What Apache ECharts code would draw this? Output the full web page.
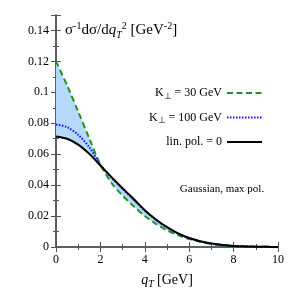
<!DOCTYPE html>
<html><head><meta charset="utf-8">
<script src="https://cdn.jsdelivr.net/npm/echarts@6/dist/echarts.min.js"></script>
<style>html,body{margin:0;padding:0;background:#fff}#c{width:300px;height:300px}</style>
</head><body><div id="c"></div>
<script>
// ---- data ----
const qT = [0,0.5,1,1.5,2,2.5,3,3.5,4,4.5,5,5.5,6,6.5,7,7.5,8,8.5,9,9.5,10];
const linPol0 = [0.0715,0.0700,0.0662,0.0602,0.0527,0.0452,0.0380,0.0310,0.0238,0.0178,0.0128,0.0088,0.0058,0.0037,0.0022,0.0013,0.0007,0.0004,0.0002,0.0001,0.0000];
const k100 = [0.0792,0.0775,0.0725,0.0645,0.0532,0.0449,0.0376,0.0306,0.0235,0.0176,0.0127,0.0087,0.0057,0.0036,0.0022,0.0013,0.0007,0.0004,0.0002,0.0001,0.0000];
const k30 = [0.1200,0.1045,0.0875,0.0702,0.0532,0.0414,0.0332,0.0263,0.0200,0.0150,0.0108,0.0076,0.0051,0.0033,0.0020,0.0012,0.0007,0.0004,0.0002,0.0001,0.0000];
const seriesNames = ['K30','K100','lin0'];
const legendLabels = ['{n|K}{s|⊥}{n| = 30 GeV}','{n|K}{s|⊥}{n| = 100 GeV}','{n|lin. pol. = 0}'];
const xRange = [0,10], xStep = 2;
const yRange = [0,0.15], yStep = 0.02;
const noteText = 'Gaussian, max pol.';

const pairs = a => qT.map((x,i)=>[x,a[i]]);
const bandBase = qT.map((x,i)=>Math.min(k30[i], linPol0[i]));
const bandSize = qT.map((x,i)=>Math.abs(k30[i] - linPol0[i]));

const serif = 'Liberation Serif';
const frame = '#555';
const chart = echarts.init(document.getElementById('c'), null, {renderer:'canvas'});
const axisCommon = {
  axisLine:{show:true,lineStyle:{color:frame,width:1.5}},
  axisTick:{show:true,inside:true,length:5,lineStyle:{color:frame,width:1}},
  minorTick:{show:true,splitNumber:2,length:3,lineStyle:{color:frame,width:1}},
  splitLine:{show:false}
};
const SM = 0.3;
chart.setOption({
  animation:false,
  backgroundColor:'#fff',
  grid:{left:56,right:22,top:15,bottom:53},
  xAxis:[
    Object.assign({type:'value',min:xRange[0],max:xRange[1],interval:xStep,position:'bottom',
      axisLabel:{color:'#000',fontFamily:serif,fontSize:12,margin:7},
      name:'{i|q}{s|T} {n|[GeV]}',nameLocation:'middle',nameGap:24,
      nameTextStyle:{rich:{
        i:{fontFamily:serif,fontStyle:'italic',fontSize:14,color:'#000',lineHeight:18},
        s:{fontFamily:serif,fontStyle:'italic',fontSize:10,color:'#000',verticalAlign:'bottom'},
        n:{fontFamily:serif,fontSize:14,color:'#000',lineHeight:18}}}
    },axisCommon),
    Object.assign({type:'value',min:xRange[0],max:xRange[1],interval:xStep,position:'top',
      axisLabel:{show:false}},axisCommon),
    {type:'category',data:qT.map(String),boundaryGap:false,show:false,position:'bottom'}
  ],
  yAxis:[
    Object.assign({type:'value',min:yRange[0],max:yRange[1],interval:yStep,position:'left',
      axisLabel:{color:'#000',fontFamily:serif,fontSize:12,margin:7,showMaxLabel:false}},axisCommon),
    Object.assign({type:'value',min:yRange[0],max:yRange[1],interval:yStep,position:'right',
      axisLabel:{show:false}},axisCommon)
  ],
  legend:{
    data:seriesNames, orient:'vertical', right:32, top:82, align:'right',
    itemWidth:35, itemHeight:14, itemGap:10.5,
    itemStyle:{opacity:0},
    formatter:n=>legendLabels[seriesNames.indexOf(n)],
    textStyle:{rich:{
      n:{fontFamily:serif,fontSize:12,color:'#000',lineHeight:16},
      s:{fontFamily:serif,fontSize:9,color:'#000',verticalAlign:'bottom'}}}
  },
  series:[
    {name:'base',type:'line',xAxisIndex:2,stack:'band',data:bandBase,smooth:SM,symbol:'none',silent:true,
      lineStyle:{opacity:0},z:1},
    {name:'band',type:'line',xAxisIndex:2,stack:'band',data:bandSize,smooth:SM,symbol:'none',silent:true,
      lineStyle:{opacity:0},areaStyle:{color:'#b6d9fb',opacity:1},z:1},
    {name:'K30',type:'line',data:pairs(k30),smooth:SM,symbol:'none',
      lineStyle:{color:'#1e951e',width:2,type:[6,3.5]},itemStyle:{color:'#1e951e'},z:3},
    {name:'K100',type:'line',data:pairs(k100),smooth:SM,symbol:'none',
      lineStyle:{color:'#1010ff',width:2,type:[1.5,1.5]},itemStyle:{color:'#1010ff'},z:4},
    {name:'lin0',type:'line',data:pairs(linPol0),smooth:SM,symbol:'none',
      lineStyle:{color:'#000',width:2},itemStyle:{color:'#000'},z:5}
  ],
  graphic:[
    {type:'text',left:65,top:21,z:10,style:{
      text:'{n|σ}{p|-1}{n|dσ/d}{i|q}{s|T}{p|2}{n| [GeV}{p|-2}{n|]}',
      rich:{
        n:{fontFamily:serif,fontSize:15,fill:'#000',lineHeight:19},
        i:{fontFamily:serif,fontStyle:'italic',fontSize:15,fill:'#000',lineHeight:19},
        p:{fontFamily:serif,fontSize:10,fill:'#000',verticalAlign:'top'},
        s:{fontFamily:serif,fontStyle:'italic',fontSize:10,fill:'#000',verticalAlign:'bottom'}}}},
    {type:'text',x:222,y:189,z:10,style:{text:noteText,fontFamily:serif,fontSize:11,fill:'#000',
      align:'center',verticalAlign:'middle'}}
  ]
});
</script></body></html>
